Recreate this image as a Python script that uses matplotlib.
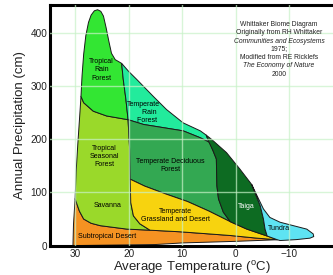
import matplotlib
matplotlib.use('Agg')
import matplotlib.pyplot as plt
from matplotlib.patches import Polygon

plt.rcParams['font.family'] = ['Liberation Sans', 'DejaVu Sans']
plt.rcParams['mathtext.fontset'] = 'custom'
plt.rcParams['mathtext.rm'] = 'Liberation Sans'

# boundary lines between biomes, (temperature C, precipitation cm)
desert_left = [(30.4, 0), (30.3, 40), (30.0, 88)]
seasonal_left = [(30.0, 88), (29.8, 140), (29.5, 190), (29.1, 250), (28.9, 281)]
rain_top = [(28.9, 281), (28.7, 320), (28.4, 360), (28.0, 395), (27.5, 420), (27.0, 434),
            (26.4, 442), (25.8, 444), (25.2, 441), (24.7, 432), (24.2, 410), (23.7, 385),
            (23.2, 362), (22.5, 350), (21.3, 343)]
temprain_top = [(21.3, 343), (20.0, 328), (18.5, 313), (15.4, 281), (12.9, 256),
                (9.8, 231), (6.6, 216), (5.5, 208)]
taiga_top = [(5.5, 208), (4.5, 200), (1.7, 175), (-0.8, 144), (-2.7, 119), (-3.0, 115)]
tundra_edge = [(-3.0, 115), (-4.0, 94), (-5.2, 69), (-6.4, 53), (-8.3, 44), (-10.8, 37.5),
               (-13.3, 31), (-14.5, 22), (-14.6, 17), (-13.9, 14), (-11.4, 11.3),
               (-8.3, 9.5), (-7.8, 11)]
taiga_tundra = [(-3.0, 115), (-3.6, 100), (-4.6, 75), (-5.2, 50), (-5.5, 31), (-5.9, 18)]
taiga_grass = [(1.0, 45), (-2.1, 31), (-5.9, 18)]
tundra_grass = [(-5.9, 18), (-7.8, 11)]
grass_desert = [(16.0, 29), (10.4, 26), (5.0, 22), (1.0, 19), (-4.0, 14), (-7.8, 11)]
desert_bottom = [(30.4, 0), (15.0, 2), (10.0, 5), (0.0, 8), (-7.8, 11)]
savanna_desert = [(30.0, 88), (29.2, 65), (28.4, 50), (27.0, 42), (25.3, 37.5),
                  (20.3, 31), (16.0, 29)]
seasonal_grass = [(19.7, 125), (19.6, 81), (19.1, 56), (17.9, 41), (16.0, 29)]
seasonal_decid = [(20.1, 237), (19.8, 180), (19.7, 125)]
rain_seasonal = [(28.9, 281), (28.4, 269), (26.6, 253), (24.1, 244), (20.1, 237)]
rain_temprain = [(21.3, 343), (21.0, 313), (20.5, 275), (20.1, 237)]
temprain_decid = [(20.1, 237), (17.2, 228), (13.5, 222), (9.8, 216), (6.6, 203),
                  (4.8, 194), (4.2, 178)]
temprain_taiga = [(5.5, 208), (5.0, 195), (4.2, 178)]
decid_taiga = [(4.2, 178), (3.6, 163), (3.5, 113), (3.2, 88), (2.3, 63), (1.0, 45)]
decid_grass = [(19.7, 125), (17.0, 112), (13.0, 97), (9.0, 83), (5.0, 65), (1.0, 45)]


def rev(b):
    return b[::-1]


biomes = {
    'desert': (desert_bottom + rev(grass_desert) + rev(savanna_desert) + rev(desert_left), '#f59222'),
    'seasonal': (seasonal_left + rain_seasonal + seasonal_decid + seasonal_grass + rev(savanna_desert), '#9ad92a'),
    'rain': (rain_top + rain_temprain + rev(rain_seasonal), '#33e633'),
    'temprain': (temprain_top + temprain_taiga + rev(temprain_decid) + rev(rain_temprain), '#22eb9c'),
    'decid': (temprain_decid + decid_taiga + rev(decid_grass) + rev(seasonal_decid), '#33a852'),
    'grass': (decid_grass + taiga_grass + tundra_grass + rev(grass_desert) + rev(seasonal_grass), '#f7d30f'),
    'taiga': (taiga_top + taiga_tundra + rev(taiga_grass) + rev(decid_taiga) + rev(temprain_taiga), '#0d6b22'),
    'tundra': (tundra_edge + rev(tundra_grass) + rev(taiga_tundra), '#5ee3f2'),
}

labels = [
    ('Tropical\nRain\nForest', 25.1, 331, 'black'),
    ('Temperate\n      Rain\n    Forest', 17.3, 251, 'black'),
    ('Tropical\nSeasonal\nForest', 24.6, 168, 'black'),
    ('Temperate Deciduous\nForest', 12.2, 151, 'black'),
    ('Savanna', 24.0, 76, 'black'),
    ('Temperate\nGrassland and Desert', 11.3, 57, 'black'),
    ('Subtropical Desert', 24.0, 18, 'black'),
    ('Taiga', -2.0, 74, 'white'),
    ('Tundra', -8.1, 33, 'black'),
]

note_lines = ['Whittaker Biome Diagram', 'Originally from RH Whittaker',
              'Communities and Ecosystems', '1975;', 'Modified from RE Ricklefs',
              'The Economy of Nature', '2000']
note_italic = [False, False, True, False, False, True, False]
note_y = [416, 401, 385, 370, 354, 339, 323]

fig = plt.figure(figsize=(3.33, 2.75), dpi=100)
ax = fig.add_axes([0.150, 0.105, 0.85, 0.877])

for name, (pts, col) in biomes.items():
    ax.add_patch(Polygon(pts, closed=True, facecolor=col, edgecolor='#1a1a1a',
                         linewidth=0.7, joinstyle='round', zorder=2))

for x in [30, 20, 10, 0, -10]:
    ax.axvline(x, color='#c8f2c8', alpha=0.7, linewidth=1.0, zorder=3)
for y in [100, 200, 300, 400]:
    ax.axhline(y, color='#c8f2c8', alpha=0.7, linewidth=1.0, zorder=3)

for txt, x, y, c in labels:
    ax.text(x, y, txt, ha='center', va='center', fontsize=5, color=c,
            linespacing=1.25, zorder=4)

for txt, it, y in zip(note_lines, note_italic, note_y):
    ax.text(-8.1, y, txt, ha='center', va='center', fontsize=4.9,
            style='italic' if it else 'normal', color='#222222')

ax.set_xlim(34.7, -18.2)
ax.set_ylim(-1, 453)
ax.set_xticks([30, 20, 10, 0, -10])
ax.set_yticks([0, 100, 200, 300, 400])
ax.tick_params(length=0, labelsize=7.2, pad=2, colors='#222222')
ax.set_xlabel('Average Temperature ($\\mathregular{^o}$C)', fontsize=9.5, labelpad=0,
              color='#222222')
ax.set_ylabel('Annual Precipitation (cm)', fontsize=9.5, labelpad=3, color='#222222')

for s in ['left', 'bottom', 'top']:
    ax.spines[s].set_linewidth(2.2)
ax.spines['right'].set_visible(False)

plt.savefig('out.png', dpi=100)
